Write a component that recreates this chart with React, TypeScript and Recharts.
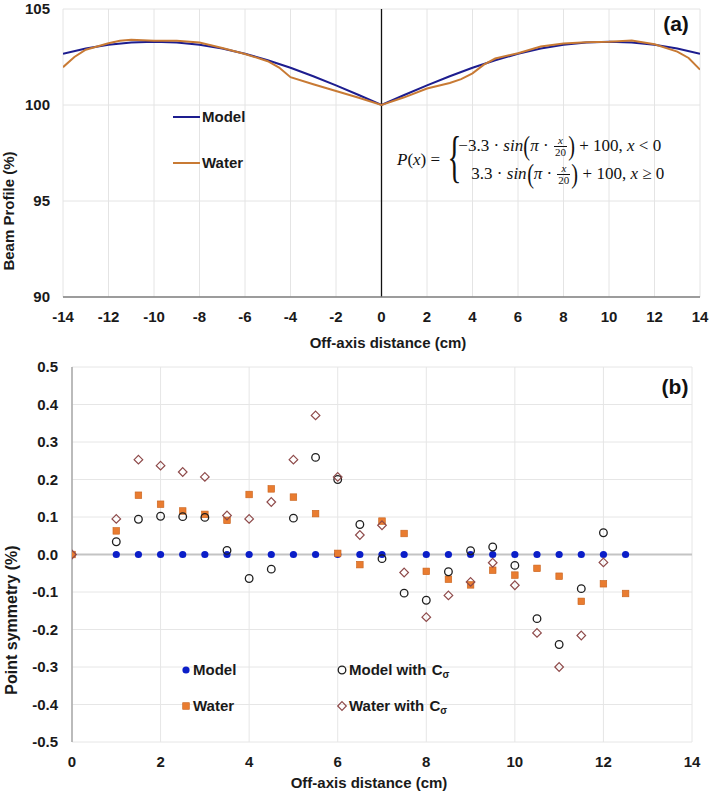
import React from 'react';
import { LineChart, Line, XAxis, YAxis, CartesianGrid, ReferenceLine, ScatterChart, Scatter } from 'recharts';

// ---------- Panel (a): beam profile ----------
const profileX = [-14, -13, -12, -11, -10, -9, -8, -7, -6, -5, -4, -3, -2, -1, 0, 1, 2, 3, 4, 5, 6, 7, 8, 9, 10, 11, 12, 13, 14];
const modelProfile = [102.67, 102.94, 103.14, 103.26, 103.3, 103.26, 103.14, 102.94, 102.67, 102.33, 101.94, 101.5, 101.02, 100.52, 100.0, 100.52, 101.02, 101.5, 101.94, 102.33, 102.67, 102.94, 103.14, 103.26, 103.3, 103.26, 103.14, 102.94, 102.67];
const waterX = [-14, -13.5, -13, -12.5, -12, -11.5, -11, -10, -9, -8, -7, -6, -5, -4.5, -4, -3, -2, -1, 0, 1, 2, 3, 3.5, 4, 4.5, 5, 6, 7, 8, 9, 10, 11, 12, 13, 13.5, 14];
const waterProfile = [101.97, 102.5, 102.88, 103.05, 103.22, 103.35, 103.4, 103.35, 103.34, 103.25, 102.97, 102.66, 102.28, 101.95, 101.45, 101.08, 100.73, 100.38, 100.0, 100.4, 100.86, 101.15, 101.35, 101.65, 102.1, 102.42, 102.7, 103.05, 103.2, 103.27, 103.3, 103.36, 103.16, 102.78, 102.45, 101.84];
const profileTicksX = [-14, -12, -10, -8, -6, -4, -2, 0, 2, 4, 6, 8, 10, 12, 14];
const profileTicksY = [90, 95, 100, 105];

// ---------- Panel (b): point symmetry ----------
const symmetryX = [0, 1, 1.5, 2, 2.5, 3, 3.5, 4, 4.5, 5, 5.5, 6, 6.5, 7, 7.5, 8, 8.5, 9, 9.5, 10, 10.5, 11, 11.5, 12, 12.5];
const modelSym = [0, 0, 0, 0, 0, 0, 0, 0, 0, 0, 0, 0, 0, 0, 0, 0, 0, 0, 0, 0, 0, 0, 0, 0, 0];
const waterSym = [0, 0.063, 0.158, 0.134, 0.116, 0.107, 0.091, 0.16, 0.175, 0.153, 0.109, 0.003, -0.027, 0.089, 0.056, -0.045, -0.066, -0.081, -0.042, -0.055, -0.037, -0.058, -0.125, -0.078, -0.104];
const modelCSym = [null, 0.034, 0.094, 0.102, 0.101, 0.099, 0.011, -0.064, -0.039, 0.097, 0.259, 0.2, 0.08, -0.011, -0.103, -0.122, -0.046, 0.01, 0.02, -0.029, -0.171, -0.24, -0.091, 0.058, null];
const waterCSym = [0, 0.095, 0.253, 0.237, 0.22, 0.207, 0.104, 0.095, 0.14, 0.253, 0.371, 0.207, 0.052, 0.078, -0.048, -0.167, -0.109, -0.073, -0.022, -0.082, -0.209, -0.3, -0.216, -0.021, null];
const symTicksX = [0, 2, 4, 6, 8, 10, 12, 14];
const symTicksY = [-0.5, -0.4, -0.3, -0.2, -0.1, 0, 0.1, 0.2, 0.3, 0.4, 0.5];

const toPoints = (xs: number[], ys: (number | null)[]) =>
  xs.map((x, i) => ({ x, y: ys[i] })).filter((p) => p.y !== null && p.y !== undefined);

const FONT = '"Liberation Sans", Arial, sans-serif';
const SERIF = '"Liberation Serif", "DejaVu Serif", serif';
const tickStyle = { fill: '#1a1a1a', fontSize: 15, fontWeight: 700, fontFamily: FONT };

const C_MODEL_LINE = '#1d1d8f';
const C_WATER_LINE = '#c87a34';
const C_MODEL_DOT = '#0b1ec8';
const C_WATER_SQ = '#e97c30';
const C_OPEN = '#1e1e1e';
const C_DIAM = '#8e4a4a';

const ModelDot = (p: any) => <circle cx={p.cx} cy={p.cy} r={3.6} fill={C_MODEL_DOT} />;
const WaterSquare = (p: any) => (
  <rect x={p.cx - 3.3} y={p.cy - 3.3} width={6.6} height={6.6} fill={C_WATER_SQ} stroke="#c8621c" strokeWidth={0.6} />
);
const OpenCircle = (p: any) => <circle cx={p.cx} cy={p.cy} r={3.8} fill="none" stroke={C_OPEN} strokeWidth={1.3} />;
const Diamond = (p: any) => (
  <path
    d={`M${p.cx},${p.cy - 4.3}L${p.cx + 4.3},${p.cy}L${p.cx},${p.cy + 4.3}L${p.cx - 4.3},${p.cy}Z`}
    fill="none"
    stroke={C_DIAM}
    strokeWidth={1.2}
  />
);

const Paren = ({ ch }: { ch: string }) => (
  <span style={{ fontSize: 27, lineHeight: '27px', display: 'inline-block', transform: 'scaleX(0.75)', margin: '0 -1px' }}>{ch}</span>
);
const Frac = () => (
  <span style={{ display: 'inline-flex', flexDirection: 'column', alignItems: 'center', fontSize: 11, lineHeight: '11px', margin: '0 1px' }}>
    <i>x</i>
    <span style={{ borderTop: '1px solid #111', padding: '0 1px' }}>20</span>
  </span>
);
const Row = ({ first }: { first: boolean }) => (
  <div style={{ display: 'flex', alignItems: 'center', height: 28, paddingLeft: first ? 0 : 13 }}>
    <span>{first ? '\u22123.3 \u00b7 ' : '3.3 \u00b7 '}</span>
    <i>&nbsp;sin</i>
    <Paren ch="(" />
    <i>π</i>
    <span>&nbsp;·&nbsp;</span>
    <Frac />
    <Paren ch=")" />
    <span>&nbsp;+ 100,&nbsp;</span>
    <i>x</i>
    <span>&nbsp;{first ? '<' : '\u2265'} 0</span>
  </div>
);

export default function App() {
  const modelA = profileX.map((x, i) => ({ x, y: modelProfile[i] }));
  const waterA = waterX.map((x, i) => ({ x, y: waterProfile[i] }));
  const modelB = toPoints(symmetryX, modelSym);
  const waterB = toPoints(symmetryX, waterSym);
  const modelCB = toPoints(symmetryX, modelCSym);
  const waterCB = toPoints(symmetryX, waterCSym);

  return (
    <div style={{ position: 'absolute', left: 0, top: 0, width: 709, height: 792, background: '#fff', fontFamily: FONT }}>
      <div style={{ position: 'absolute', left: 0, top: 0 }}>
        <LineChart width={709} height={350} margin={{ top: 9, right: 9, bottom: 0, left: 0 }}>
          <CartesianGrid stroke="#e4e4e4" strokeWidth={1} />
          <XAxis
            type="number"
            dataKey="x"
            domain={[-14, 14]}
            ticks={profileTicksX}
            interval={0}
            height={53}
            tickLine={false}
            tickSize={0}
            tickMargin={14}
            axisLine={{ stroke: '#7f7f7f', strokeWidth: 1.6 }}
            tick={tickStyle}
            allowDataOverflow
          />
          <YAxis
            type="number"
            dataKey="y"
            domain={[90, 105]}
            ticks={profileTicksY}
            interval={0}
            width={63}
            tickLine={false}
            tickSize={0}
            tickMargin={13}
            axisLine={false}
            tick={tickStyle}
            allowDataOverflow
          />
          <ReferenceLine x={0} stroke="#111" strokeWidth={1.3} />
          <Line data={modelA} dataKey="y" type="linear" stroke={C_MODEL_LINE} strokeWidth={2} dot={false} isAnimationActive={false} />
          <Line data={waterA} dataKey="y" type="linear" stroke={C_WATER_LINE} strokeWidth={2} dot={false} isAnimationActive={false} />
        </LineChart>
      </div>

      <div style={{ position: 'absolute', left: 0, top: 350 }}>
        <ScatterChart width={709} height={442} margin={{ top: 17, right: 17, bottom: 0, left: 0 }}>
          <CartesianGrid stroke="#e6e6e6" strokeWidth={1} />
          <XAxis
            type="number"
            dataKey="x"
            domain={[0, 14]}
            ticks={symTicksX}
            interval={0}
            height={50}
            tickLine={false}
            tickSize={0}
            tickMargin={14}
            axisLine={false}
            tick={tickStyle}
            allowDataOverflow
          />
          <YAxis
            type="number"
            dataKey="y"
            domain={[-0.5, 0.5]}
            ticks={symTicksY}
            interval={0}
            width={72}
            tickLine={false}
            tickSize={0}
            tickMargin={14}
            axisLine={{ stroke: '#a8a8a8', strokeWidth: 1.5 }}
            tick={tickStyle}
            tickFormatter={(v: number) => v.toFixed(1)}
            allowDataOverflow
          />
          <ReferenceLine y={0} stroke="#c4c4c4" strokeWidth={2.2} />
          <Scatter data={modelB} shape={ModelDot} isAnimationActive={false} />
          <Scatter data={waterB} shape={WaterSquare} isAnimationActive={false} />
          <Scatter data={modelCB} shape={OpenCircle} isAnimationActive={false} />
          <Scatter data={waterCB} shape={Diamond} isAnimationActive={false} />
        </ScatterChart>
      </div>

      <svg width={709} height={792} style={{ position: 'absolute', left: 0, top: 0, pointerEvents: 'none' }} fontFamily={FONT}>
        {/* panel labels */}
        <text x={676} y={31} textAnchor="middle" fontSize={21} fontWeight={700} fill="#111">(a)</text>
        <text x={675} y={394} textAnchor="middle" fontSize={21} fontWeight={700} fill="#111">(b)</text>

        {/* axis titles */}
        <text x={388} y={347.5} textAnchor="middle" fontSize={15} fontWeight={700} fill="#1a1a1a">Off-axis distance (cm)</text>
        <text x={369} y={787.5} textAnchor="middle" fontSize={15} fontWeight={700} fill="#1a1a1a">Off-axis distance (cm)</text>
        <text x={0} y={0} transform="translate(14,211) rotate(-90)" textAnchor="middle" fontSize={15} fontWeight={700} fill="#1a1a1a">Beam Profile (%)</text>
        <text x={0} y={0} transform="translate(17,620) rotate(-90)" textAnchor="middle" fontSize={16} fontWeight={700} fill="#1a1a1a">Point symmetry (%)</text>

        {/* legend panel a */}
        <line x1={173} y1={117} x2={200} y2={117} stroke={C_MODEL_LINE} strokeWidth={2} />
        <text x={202} y={122.4} fontSize={15} fontWeight={700} fill="#1a1a1a">Model</text>
        <line x1={173} y1={163} x2={200} y2={163} stroke={C_WATER_LINE} strokeWidth={2} />
        <text x={202} y={168.4} fontSize={15} fontWeight={700} fill="#1a1a1a">Water</text>

        {/* legend panel b */}
        <ModelDot cx={186} cy={670} />
        <text x={193} y={675.4} fontSize={15} fontWeight={700} fill="#1a1a1a">Model</text>
        <WaterSquare cx={186} cy={706} />
        <text x={193} y={711.4} fontSize={15} fontWeight={700} fill="#1a1a1a">Water</text>
        <OpenCircle cx={342} cy={670} />
        <text x={349} y={675.4} fontSize={15} fontWeight={700} fill="#1a1a1a">
          Model with <tspan dx={1}>C</tspan><tspan fontSize={10} dy={3}>σ</tspan>
        </text>
        <Diamond cx={342} cy={706} />
        <text x={349} y={711.4} fontSize={15} fontWeight={700} fill="#1a1a1a">
          Water with <tspan dx={1}>C</tspan><tspan fontSize={10} dy={3}>σ</tspan>
        </text>
      </svg>

      {/* equation */}
      <div
        style={{
          position: 'absolute',
          left: 397,
          top: 132,
          height: 56,
          display: 'flex',
          alignItems: 'center',
          fontFamily: SERIF,
          fontSize: 17,
          color: '#111',
          whiteSpace: 'nowrap',
        }}
      >
        <span>
          <i>P</i>(<i>x</i>) =&nbsp;
        </span>
        <span style={{ fontSize: 58, lineHeight: '58px', display: 'inline-block', transform: 'scaleX(0.5)', width: 14, marginTop: -6 }}>{'{'}</span>
        <div style={{ display: 'flex', flexDirection: 'column' }}>
          <Row first={true} />
          <Row first={false} />
        </div>
      </div>
    </div>
  );
}
